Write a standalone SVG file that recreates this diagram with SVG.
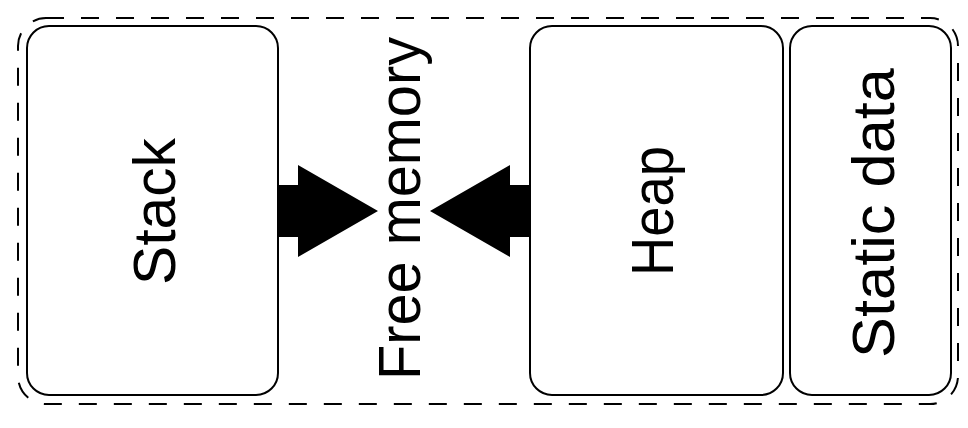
<svg xmlns="http://www.w3.org/2000/svg" width="968" height="428" viewBox="0 0 968 428">
<style>
.box{fill:#fff;stroke:#000;stroke-width:2}
.outer{fill:none;stroke:#000;stroke-width:2;stroke-dasharray:18 17}
.lbl{font-family:"Liberation Sans",Arial,sans-serif;font-size:60px;fill:#000;text-anchor:middle}
.arrow{fill:#000;stroke:none}
</style>
<rect width="968" height="428" fill="#fff"/>
<g id="memory">
<rect class="outer" x="18" y="18" width="940" height="386" rx="28"/>
</g>
<g id="stack">
<rect class="box" x="27" y="26" width="251" height="369" rx="22"/>
<text class="lbl" transform="translate(175 211.5) rotate(-90)" textLength="147" lengthAdjust="spacingAndGlyphs">Stack</text>
</g>
<g id="free">
<text class="lbl" transform="translate(420 208.5) rotate(-90)" textLength="343" lengthAdjust="spacingAndGlyphs">Free memory</text>
</g>
<g id="heap">
<rect class="box" x="530" y="26" width="253" height="369" rx="22"/>
<text class="lbl" transform="translate(673 211) rotate(-90)" textLength="130" lengthAdjust="spacingAndGlyphs">Heap</text>
</g>
<g id="static">
<rect class="box" x="790" y="26" width="161" height="369" rx="22"/>
<text class="lbl" transform="translate(894 213) rotate(-90)" textLength="290" lengthAdjust="spacingAndGlyphs">Static data</text>
</g>
<g id="connectors">
<polygon class="arrow" points="278,185 298,185 298,165 378,211 298,257 298,237 278,237"/>
<polygon class="arrow" points="530,185 510,185 510,165 430,211 510,257 510,237 530,237"/>
</g>
</svg>
